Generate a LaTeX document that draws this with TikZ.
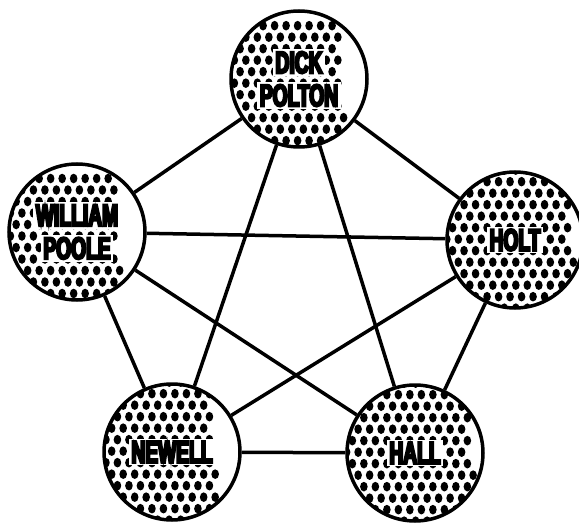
\documentclass[tikz,border=0pt]{standalone}
\usepackage{fontspec}
\newfontfamily\lblfont[FakeStretch=0.62,FakeBold=7]{Liberation Sans Bold}
\newcommand\wb[1]{{\setlength\fboxsep{2.5pt}\colorbox{white}{#1}}}
\tikzset{
  person/.style={circle, draw=black, line width=3.5pt, minimum size=136pt,
    inner sep=0pt, fill=white, align=center,
    font=\lblfont\fontsize{31}{32}\selectfont,
    path picture={
      \foreach \i in {-7,...,7}{
        \foreach \j in {-7,...,7}{
          \fill[black, shift={(path picture bounding box.center)}]
            ({\i*11.5+mod(\j,2)*5.75},{\j*11.5}) ellipse (3.8pt and 4.8pt);
        }
      }
    }},
  link/.style={line width=3.5pt, draw=black}
}
\begin{document}
\begin{tikzpicture}[x=1pt,y=-1pt]
\useasboundingbox (0,0) rectangle (579,524);
\node[person] (dick) at (299,79) {\wb{DICK}\\[1pt]\wb{POLTON}};
\node[person] (will) at (77,232) {\wb{WILLIAM}\\[1pt]\wb{POOLE}};
\node[person] (holt) at (515,240) {\wb{HOLT}};
\node[person] (newell) at (172,452) {\wb{NEWELL}};
\node[person] (hall) at (415,453) {\wb{HALL}};
\draw[link] (dick) -- (will);
\draw[link] (dick) -- (holt);
\draw[link] (dick) -- (newell);
\draw[link] (dick) -- (hall);
\draw[link] (will) -- (holt);
\draw[link] (will) -- (newell);
\draw[link] (will) -- (hall);
\draw[link] (holt) -- (newell);
\draw[link] (holt) -- (hall);
\draw[link] (newell) -- (hall);
\end{tikzpicture}
\end{document}
